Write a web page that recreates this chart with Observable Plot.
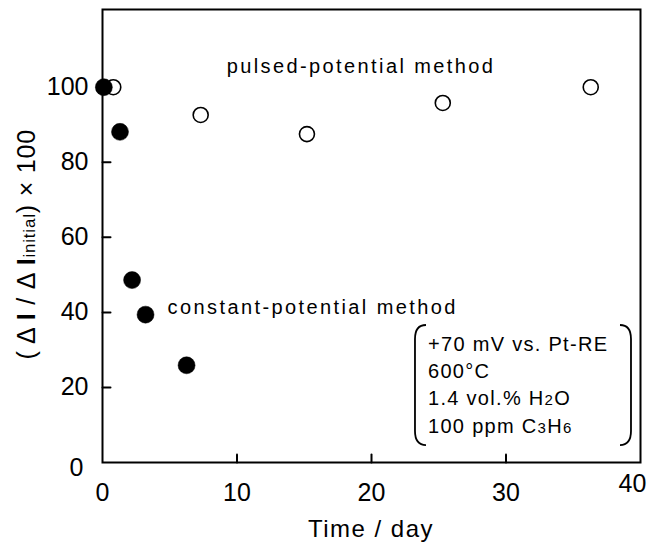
<!DOCTYPE html>
<html><head><meta charset="utf-8">
<script src="https://cdn.jsdelivr.net/npm/d3@7"></script>
<script src="https://cdn.jsdelivr.net/npm/@observablehq/plot@0.6"></script>
<style>
body{margin:0;background:#fff}
#chart{width:654px;height:548px}
</style>
</head><body><div id="chart"></div>
<script>
// ---- data ----
const pulsedDays = [0.8, 7.3, 15.2, 25.3, 36.3];
const pulsedValues = [100, 92.6, 87.5, 95.8, 100];
const constantDays = [0.1, 1.3, 2.2, 3.2, 6.25];
const constantValues = [100, 88.1, 48.6, 39.4, 25.9];
const xTickValues = [10, 20, 30];
const xTickLabels = [0, 10, 20, 30];
const xLastLabel = [40];
const yTickValues = [20, 40, 60, 80, 100];
const yTickLabels = [20, 40, 60, 80, 100];
const yZeroLabel = [0];
const pulsedLabel = "pulsed-potential method";
const constantLabel = "constant-potential method";
const conditionLines = [
  [["+70 mV vs. Pt-RE", false]],
  [["600°C", false]],
  [["1.4 vol.% H", false], ["2", true], ["O", false]],
  [["100 ppm C", false], ["3", true], ["H", false], ["6", true]]
];
const xTitle = "Time / day";

// ---- annotation anchors (data space) ----
const pulsedAnchor = {x: 9.23, y: 105.6};
const constantAnchor = {x: 4.84, y: 41.4};
const box = {x1: 23.27, x2: 39.33, y1: 4.5, y2: 36.5, textX: 24.24, baselines: [29.7, 22.4, 15.1, 7.8]};

const pulsed = pulsedDays.map((d, i) => ({day: d, value: pulsedValues[i]}));
const constant = constantDays.map((d, i) => ({day: d, value: constantValues[i]}));

const font = "'Liberation Sans', Arial, sans-serif";
const tickShape = {draw(ctx, l) { ctx.moveTo(0, 0); ctx.lineTo(0, -l); }};

const plot = Plot.plot({
  width: 654, height: 548,
  marginLeft: 102, marginRight: 14, marginTop: 9, marginBottom: 86,
  style: {fontFamily: font, fontSize: "25px", color: "black", background: "white", overflow: "visible"},
  x: {domain: [0, 40], axis: null},
  y: {domain: [0, 120.7], axis: null},
  marks: [
    Plot.frame({stroke: "black", strokeWidth: 2}),
    Plot.vector(yTickValues, {x: 0, y: d => d, length: 8, rotate: 90, anchor: "start", shape: tickShape, stroke: "black", strokeWidth: 2}),
    Plot.vector(xTickValues, {x: d => d, y: 0, length: 8, rotate: 0, anchor: "start", shape: tickShape, stroke: "black", strokeWidth: 2}),
    Plot.axisY(yTickLabels, {tickSize: 0, tickPadding: 14, fontSize: 25, label: null}),
    Plot.axisY(yZeroLabel, {tickSize: 0, tickPadding: 19, dy: 5, fontSize: 25, label: null}),
    Plot.axisX(xTickLabels, {tickSize: 0, tickPadding: 21, fontSize: 25, label: null}),
    Plot.axisX(xLastLabel, {tickSize: 0, tickPadding: 21, dy: -9, dx: -8, fontSize: 25, label: null}),
    Plot.dot(pulsed, {x: "day", y: "value", r: 7.5, fill: "white", stroke: "black", strokeWidth: 1.6}),
    Plot.dot(constant, {x: "day", y: "value", r: 8.5, fill: "black", stroke: "black", strokeWidth: 0.5}),
    Plot.text([pulsedLabel], {x: pulsedAnchor.x, y: pulsedAnchor.y, text: d => d, textAnchor: "start", fontSize: 20}),
    Plot.text([constantLabel], {x: constantAnchor.x, y: constantAnchor.y, text: d => d, textAnchor: "start", fontSize: 20})
  ]
});

const svg = d3.select(plot);
svg.selectAll('g[aria-label="text"] text').attr("letter-spacing", "2.4px");

const sx = plot.scale("x").apply, sy = plot.scale("y").apply;

// condition box brackets
const bl = sx(box.x1), br = sx(box.x2), bt = sy(box.y2), bb = sy(box.y1);
const cw = 11, ch = 14;
const brackets = svg.append("g").attr("fill", "none").attr("stroke", "black").attr("stroke-width", 1.8);
brackets.append("path").attr("d", `M${bl + cw},${bt} Q${bl},${bt} ${bl},${bt + ch} L${bl},${bb - ch} Q${bl},${bb} ${bl + cw},${bb}`);
brackets.append("path").attr("d", `M${br - cw},${bt} Q${br},${bt} ${br},${bt + ch} L${br},${bb - ch} Q${br},${bb} ${br - cw},${bb}`);

const cond = svg.append("g").attr("font-family", font).attr("font-size", 20).attr("letter-spacing", "1.3px")
  .attr("fill", "black").attr("text-anchor", "start");
conditionLines.forEach((parts, i) => {
  const t = cond.append("text").attr("x", sx(box.textX)).attr("y", sy(box.baselines[i]));
  parts.forEach(([s, sub]) => {
    const ts = t.append("tspan").text(s);
    if (sub) ts.attr("font-size", 15);
  });
});

// x title
svg.append("text").attr("x", sx(20)).attr("y", 537).attr("text-anchor", "middle")
  .attr("font-family", font).attr("font-size", 24).attr("letter-spacing", "1.5px").text(xTitle);

// y title (rotated)
const yt = svg.append("text").attr("transform", `translate(35,${sy(58)}) rotate(-90)`)
  .attr("text-anchor", "middle").attr("font-family", font).attr("font-size", 25).attr("letter-spacing", "0.8px");
yt.append("tspan").text("( Δ ");
yt.append("tspan").attr("font-weight", "bold").text("I");
yt.append("tspan").text(" / Δ ");
yt.append("tspan").attr("font-weight", "bold").text("I");
yt.append("tspan").attr("font-size", 17).text("initial");
yt.append("tspan").text(") × 100");

document.getElementById("chart").append(plot);
</script>
</body></html>
